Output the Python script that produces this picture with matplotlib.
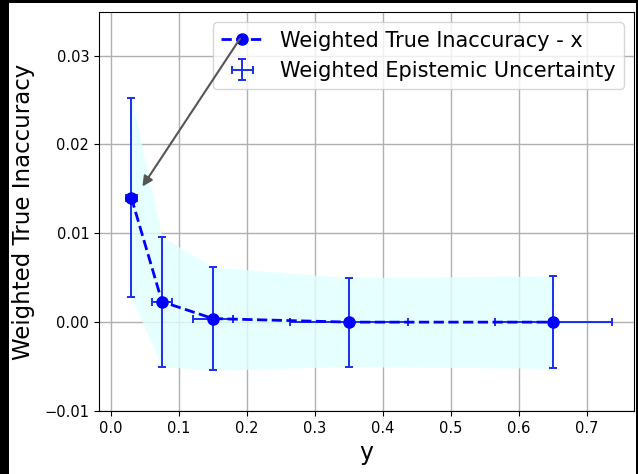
import matplotlib
matplotlib.use("Agg")
import matplotlib.pyplot as plt
from matplotlib.patches import Rectangle

# ==========================================
# DATA
# ==========================================

y_bins = [0.03, 0.075, 0.15, 0.35, 0.65]
true_inaccuracy = [0.0140, 0.0023, 0.0004, 0.0000, 0.0000]
epistemic_unc = [0.0112, 0.0073, 0.0058, 0.0050, 0.0052]
bin_halfwidth = [0.008, 0.015, 0.030, 0.087, 0.086]

x_ticks = [0.0, 0.1, 0.2, 0.3, 0.4, 0.5, 0.6, 0.7]
y_ticks = [-0.01, 0.00, 0.01, 0.02, 0.03]


# ==========================================
# PLOT
# ==========================================

fig = plt.figure(figsize=(6.38, 4.74), dpi=100, facecolor="black")
# white page with a thin black border on left/top/right like the screenshot
fig.patches.append(Rectangle((9 / 638, 0), (636 - 9) / 638, (474 - 3) / 474,
                             transform=fig.transFigure, facecolor="white",
                             edgecolor="none", zorder=-10))

ax = fig.add_axes([99 / 638, (474 - 411) / 474, (634 - 99) / 638, (411 - 12) / 474])

lower = [m - e for m, e in zip(true_inaccuracy, epistemic_unc)]
upper = [m + e for m, e in zip(true_inaccuracy, epistemic_unc)]
ax.fill_between(y_bins, lower, upper, color="#e0ffff", alpha=0.8, linewidth=0)

ax.plot(y_bins, true_inaccuracy, "o--", color="blue", linewidth=2,
        markersize=8, label="Weighted True Inaccuracy - x", zorder=4)
ax.errorbar(y_bins, true_inaccuracy, yerr=epistemic_unc, xerr=bin_halfwidth,
            fmt="none", ecolor="#1a2ef0", elinewidth=1.4, capsize=3,
            capthick=1.4, label="Weighted Epistemic Uncertainty", zorder=3)

ax.set_xlim(-0.0176, 0.769)
ax.set_ylim(-0.01, 0.0349)
ax.set_xticks(x_ticks)
ax.set_yticks(y_ticks)
ax.tick_params(labelsize=10.5)
ax.grid(True, color="#b0b0b0", linewidth=1)
ax.set_axisbelow(True)

ax.set_xlabel("y", fontsize=17)
ax.set_ylabel("Weighted True Inaccuracy", fontsize=16.5, labelpad=7)

ax.legend(loc="upper right", fontsize=15)

# arrow from the legend marker down to the first point (drawn above the legend)
ax.annotate("", xy=(0.044, 0.0150), xytext=(0.1897, 0.0319),
            arrowprops=dict(arrowstyle="-|>", color="#555555", lw=1.5,
                            mutation_scale=15, shrinkA=0), zorder=6)

plt.savefig("out.png", dpi=100, facecolor=fig.get_facecolor())
plt.close()
